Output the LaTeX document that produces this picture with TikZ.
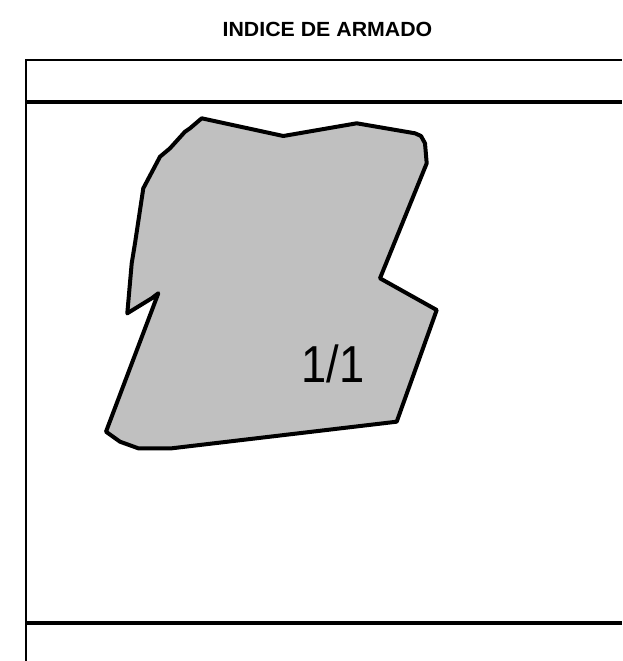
\documentclass[tikz,border=0pt]{standalone}
\usepackage{fontspec}
\setmainfont{Liberation Sans}
\definecolor{shapegray}{RGB}{192,192,192}
\tikzset{
  frameline/.style={line width=#1, black},
  piece/.style={draw=black, fill=shapegray, line width=4pt, line join=round},
  titletext/.style={font=\fontsize{20.5}{22}\selectfont\bfseries, inner sep=0pt, xscale=1.04},
  piecelabel/.style={font=\fontsize{52}{56}\selectfont, inner sep=0pt, xscale=0.87}
}
\begin{document}
\begin{tikzpicture}[x=1pt,y=-1pt]
\useasboundingbox (0,0) rectangle (622,661);
\node[titletext] (title) at (327.5,29) {INDICE DE ARMADO};
\draw[frameline=2.4pt] (26,622) -- (26,60.3) -- (622,60.3);
\draw[frameline=2.8pt] (26,102) -- (26,622);
\draw[frameline=1.6pt] (26,622) -- (26,661);
\draw[frameline=4.2pt] (25,102.3) -- (622,102.3);
\draw[frameline=4.2pt] (25,622.7) -- (622,622.7);
\draw[piece] (201.7,118.3) -- (283.3,136) -- (356.7,123.3) -- (415,133.3)
  -- (421,136) -- (425,143.3) -- (426.7,163.3) -- (380,278.3) -- (436.7,310)
  -- (420,356.7) -- (396.7,421.7) -- (171.7,448.3) -- (138.3,448.3)
  -- (120,441.7) -- (106,431.7) -- (158.3,293.3) -- (151.7,298.3)
  -- (127.3,313.3) -- (131.7,263.3) -- (135,243.3) -- (143.3,188.3)
  -- (160,156.7) -- (170,148.3) -- (185,131.7) -- (190,128.3) -- cycle;
\node[piecelabel] (lbl) at (333,364) {1/1};
\end{tikzpicture}
\end{document}
